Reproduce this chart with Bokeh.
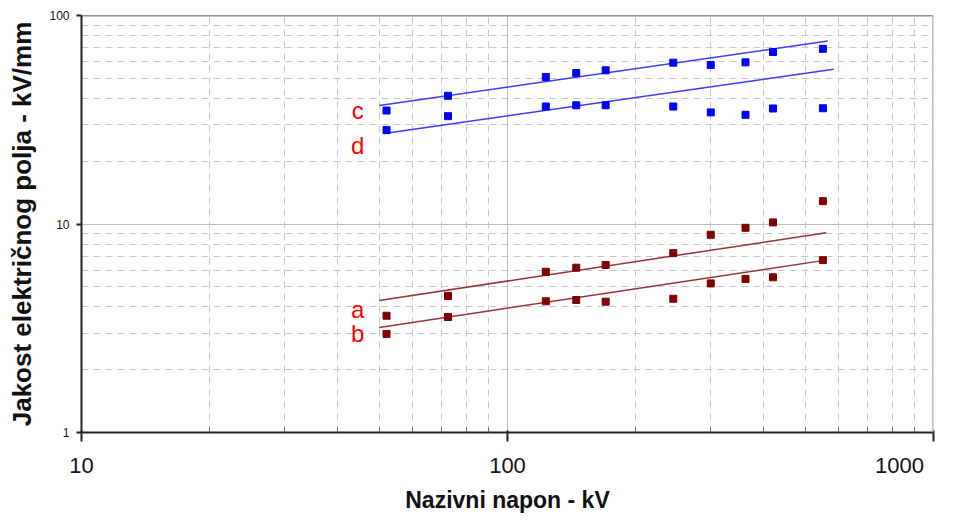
from bokeh.plotting import figure
from bokeh.models import Range1d, FixedTicker, Span, ColumnDataSource
from bokeh.core.properties import value
from bokeh.embed import file_html
from bokeh.resources import INLINE

# ---------------- data ----------------
voltage_kv = [52, 72.5, 123, 145, 170, 245, 300, 362, 420, 550]
series_a = [3.63, 4.52, 5.90, 6.17, 6.36, 7.25, 8.88, 9.59, 10.18, 12.87]
series_b = [2.97, 3.58, 4.26, 4.32, 4.24, 4.38, 5.19, 5.45, 5.55, 6.71]
series_c = [35.0, 41.2, 50.7, 53.0, 54.6, 59.4, 57.9, 59.6, 66.8, 69.2]
series_d = [28.2, 32.9, 36.6, 37.1, 37.1, 36.6, 34.3, 33.4, 35.8, 35.9]

# trend lines (end points)
trend_a_x = [50, 560]
trend_a_y = [4.30, 9.08]
trend_b_x = [50, 560]
trend_b_y = [3.19, 6.71]
trend_c_x = [50, 565]
trend_c_y = [37.0, 75.5]
trend_d_x = [51.3, 583]
trend_d_y = [27.2, 55.2]

series_names = ["a", "b", "c", "d"]

x_major = [10, 100, 1000]
x_tick_labels = ["10", "100", "1000"]
x_minor = [20, 30, 40, 50, 60, 70, 80, 90, 200, 300, 400, 500, 600, 700, 800, 900]
y_major = [1, 10, 100]
y_tick_labels = ["1", "10", "100"]
y_minor = [2, 3, 4, 5, 6, 7, 8, 9, 20, 30, 40, 50, 60, 70, 80, 90]

x_title = "Nazivni napon - kV"
y_title = "Jakost električnog polja - kV/mm"

# ---------------- layout / style ----------------
FONT = "Liberation Sans"
RED_DARK = "#800000"
RED_LINE = "#993333"
BLUE = "#0000ff"
BLUE_LINE = "#3c3cff"

p = figure(width=948, height=515,
           x_axis_type="log", y_axis_type="log",
           x_range=Range1d(10, 1000), y_range=Range1d(1, 100),
           output_backend="svg", toolbar_location=None,
           min_border_left=81, min_border_right=15,
           min_border_top=15, min_border_bottom=82)
p.background_fill_color = "white"
p.border_fill_color = "white"
p.outline_line_color = None

xt = FixedTicker(ticks=x_major, minor_ticks=x_minor)
yt = FixedTicker(ticks=y_major, minor_ticks=y_minor)
p.xaxis.ticker = xt
p.yaxis.ticker = yt
p.xgrid.ticker = xt
p.ygrid.ticker = yt

for g in (p.xgrid, p.ygrid):
    g.grid_line_color = "#bdbdbd"
    g.grid_line_width = 1
    g.minor_grid_line_color = "#c8c8c8"
    g.minor_grid_line_dash = "7 5"
    g.minor_grid_line_width = 1

# the last x label sits at the canvas edge: pad it with no-break spaces so
# that its visible digits stay inside the canvas
x_overrides = dict(zip(x_major, x_tick_labels))
x_overrides[x_major[-1]] = x_tick_labels[-1] + "\u00a0" * 4
p.xaxis.major_label_overrides = x_overrides
p.yaxis.major_label_overrides = dict(zip(y_major, y_tick_labels))

# x axis
p.xaxis.axis_line_color = "#222222"
p.xaxis.axis_line_width = 2
p.xaxis.major_tick_line_color = "#222222"
p.xaxis.major_tick_line_width = 2
p.xaxis.major_tick_out = 9
p.xaxis.major_tick_in = 2
p.xaxis.minor_tick_line_color = "#666666"
p.xaxis.minor_tick_in = 5
p.xaxis.minor_tick_out = 0
p.xaxis.major_label_text_font = FONT
p.xaxis.major_label_text_font_size = "22px"
p.xaxis.major_label_text_color = "#111111"
p.xaxis.major_label_standoff = 11
p.xaxis.axis_label = x_title
p.xaxis.axis_label_text_font = FONT
p.xaxis.axis_label_text_font_size = "23px"
p.xaxis.axis_label_text_font_style = "bold"
p.xaxis.axis_label_text_color = "#111111"
p.xaxis.axis_label_standoff = 6

# y axis
p.yaxis.axis_line_color = "#222222"
p.yaxis.axis_line_width = 2
p.yaxis.major_tick_line_color = "#222222"
p.yaxis.major_tick_line_width = 2
p.yaxis.major_tick_out = 5
p.yaxis.major_tick_in = 0
p.yaxis.minor_tick_line_color = None
p.yaxis.major_label_text_font = FONT
p.yaxis.major_label_text_font_size = "12px"
p.yaxis.major_label_text_color = "#111111"
p.yaxis.major_label_standoff = 7
p.yaxis.axis_label = y_title
p.yaxis.axis_label_text_font = FONT
p.yaxis.axis_label_text_font_size = "26px"
p.yaxis.axis_label_text_font_style = "bold"
p.yaxis.axis_label_text_color = "#111111"
p.yaxis.axis_label_standoff = 9

# frame edges: dark top, grey right
p.add_layout(Span(location=100, dimension="width", line_color="#222222", line_width=1.5))
p.add_layout(Span(location=1000, dimension="height", line_color="#b0b0b0", line_width=2.5))

# trend lines
p.line(trend_a_x, trend_a_y, line_color=RED_LINE, line_width=1.5)
p.line(trend_b_x, trend_b_y, line_color=RED_LINE, line_width=1.5)
p.line(trend_c_x, trend_c_y, line_color=BLUE_LINE, line_width=1.5)
p.line(trend_d_x, trend_d_y, line_color=BLUE_LINE, line_width=1.5)

# measured points
p.scatter(voltage_kv, series_a, marker="square", size=7, fill_color=RED_DARK, line_color=RED_DARK)
p.scatter(voltage_kv, series_b, marker="square", size=7, fill_color=RED_DARK, line_color=RED_DARK)
p.scatter(voltage_kv, series_c, marker="square", size=7, fill_color=BLUE, line_color=BLUE)
p.scatter(voltage_kv, series_d, marker="square", size=7, fill_color=BLUE, line_color=BLUE)

# series letters (annotation placement)
label_x = [44.5, 44.5, 44.5, 44.5]
label_y = [3.87, 2.99, 35.1, 23.9]
src = ColumnDataSource(dict(x=label_x, y=label_y, t=series_names))
p.text(x="x", y="y", text="t", source=src, text_font=value(FONT),
       text_font_size="24px", text_color="#ff0000",
       text_align="center", text_baseline="alphabetic")

open("out.html", "w").write(file_html(p, INLINE))
